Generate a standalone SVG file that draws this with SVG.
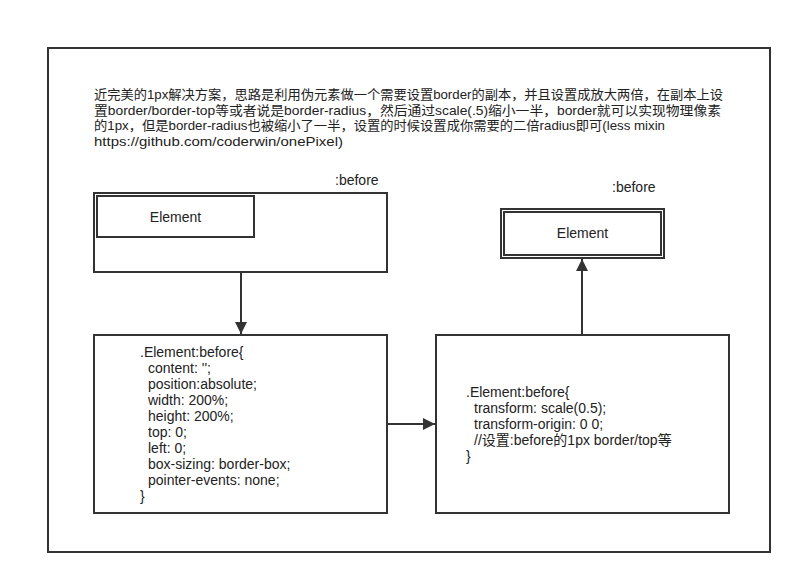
<svg xmlns="http://www.w3.org/2000/svg" width="802" height="585" viewBox="0 0 802 585">
<style>
text{font-family:"Liberation Sans","Noto Sans CJK SC",sans-serif;font-size:14px;fill:#222}
.h{font-size:13px}
.b{fill:#fff;stroke:#333;stroke-width:2}
.c{stroke:#333;stroke-width:2;fill:none}
</style>
<defs>
<marker id="ah" viewBox="0 0 10 10" refX="10" refY="5" markerWidth="6" markerHeight="6" orient="auto" markerUnits="strokeWidth">
<path d="M0,0 L10,5 L0,10 z" fill="#333"/>
</marker>
</defs>
<rect width="802" height="585" fill="#fff"/>
<g id="frame"><rect class="b" x="48" y="48" width="722" height="504"/></g>
<g id="desc">
<text class="h" x="94" y="99" textLength="629" lengthAdjust="spacingAndGlyphs">近完美的1px解决方案，思路是利用伪元素做一个需要设置border的副本，并且设置成放大两倍，在副本上设</text>
<text class="h" x="94" y="115" textLength="627" lengthAdjust="spacingAndGlyphs">置border/border-top等或者说是border-radius，然后通过scale(.5)缩小一半，border就可以实现物理像素</text>
<text class="h" x="94" y="130" textLength="571" lengthAdjust="spacingAndGlyphs">的1px，但是border-radius也被缩小了一半，设置的时候设置成你需要的二倍radius即可(less mixin</text>
<text class="h" x="94" y="146" textLength="249" lengthAdjust="spacingAndGlyphs">https://github.com/coderwin/onePixel)</text>
</g>
<g id="node-before">
<rect class="b" x="94" y="193" width="293" height="79"/>
<text x="335" y="185">:before</text>
</g>
<g id="node-element">
<rect class="b" x="97" y="196" width="157" height="41"/>
<text x="175.5" y="222" text-anchor="middle">Element</text>
</g>
<g id="node-code1">
<rect class="b" x="94" y="335" width="293" height="178"/>
<text x="140" y="357">.Element:before{</text>
<text x="148" y="373">content: '';</text>
<text x="148" y="389">position:absolute;</text>
<text x="148" y="405">width: 200%;</text>
<text x="148" y="421">height: 200%;</text>
<text x="148" y="437">top: 0;</text>
<text x="148" y="453">left: 0;</text>
<text x="148" y="469">box-sizing: border-box;</text>
<text x="148" y="485">pointer-events: none;</text>
<text x="140" y="501">}</text>
</g>
<g id="node-code2">
<rect class="b" x="436" y="335" width="293" height="178"/>
<text x="466" y="397">.Element:before{</text>
<text x="474" y="413">transform: scale(0.5);</text>
<text x="474" y="429">transform-origin: 0 0;</text>
<text x="474" y="445">//设置:before的1px border/top等</text>
<text x="466" y="461">}</text>
</g>
<g id="node-result">
<rect class="b" x="501" y="209" width="163" height="49"/>
<rect class="c" x="504" y="212" width="157" height="43"/>
<text x="582.5" y="238" text-anchor="middle">Element</text>
<text x="612" y="192">:before</text>
</g>
<g id="connectors">
<path class="c" d="M241,272 V334" marker-end="url(#ah)"/>
<path class="c" d="M387,424 H435" marker-end="url(#ah)"/>
<path class="c" d="M582,335 V259" marker-end="url(#ah)"/>
</g>
</svg>
